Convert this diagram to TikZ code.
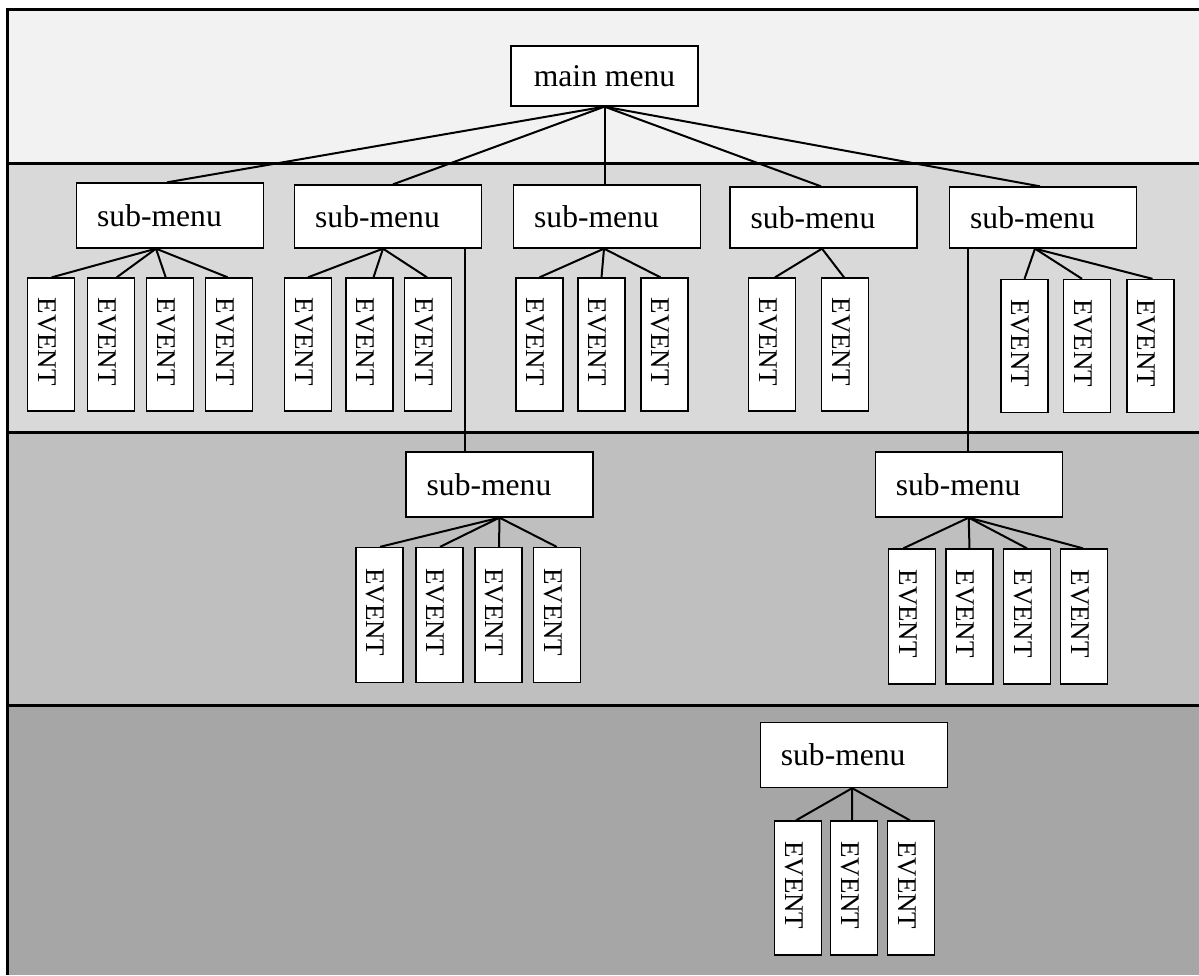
\documentclass[tikz,border=0pt]{standalone}
\usepackage{fontspec}
\setmainfont{Liberation Serif}
\usepackage{graphicx}
\definecolor{bandA}{HTML}{F2F2F2}
\definecolor{bandB}{HTML}{D9D9D9}
\definecolor{bandC}{HTML}{BFBFBF}
\definecolor{bandD}{HTML}{A6A6A6}
\newcommand{\evtxt}{\raisebox{3pt}[0pt][88pt]{\rotatebox{-90}{EVENT}}\kern8pt}
\newcommand{\smtxt}{sub-menu\kern21pt}
\begin{document}
\begin{tikzpicture}[x=1pt,y=-1pt,
  menubox/.style={draw,fill=white,line width=1.3pt,minimum width=187pt,minimum height=63pt,inner sep=0pt,font=\fontsize{31.6}{36}\selectfont},
  evbox/.style={draw,fill=white,line width=1.3pt,minimum width=47pt,minimum height=133pt,inner sep=0pt,font=\fontsize{27}{30}\selectfont},
  link/.style={line width=2pt},
  sepline/.style={line width=3pt}]
\useasboundingbox (0,0) rectangle (1199,975);
% bands
\fill[bandA] (7,8) rectangle (1199,163);
\fill[bandB] (7,163) rectangle (1199,432);
\fill[bandC] (7,432) rectangle (1199,705);
\fill[bandD] (7,705) rectangle (1199,975);
\draw[sepline] (6,9) -- (1199,9);
\draw[sepline] (7.5,9) -- (7.5,975);
\draw[sepline] (7.5,163) -- (1199,163);
\draw[sepline] (7.5,432) -- (1199,432);
\draw[sepline] (7.5,705) -- (1199,705);

% menus
\node[menubox,minimum height=60pt] (main) at (604.5,76) {main menu};
\node[menubox,minimum height=65pt] (s1) at (170,215.5) {\smtxt};
\node[menubox] (s2) at (388,216.5) {\smtxt};
\node[menubox] (s3) at (607,216.5) {\smtxt};
\node[menubox,minimum height=61pt] (s4) at (823.5,217.5) {\smtxt};
\node[menubox,minimum height=61pt] (s5) at (1043,217.5) {\smtxt};
\node[menubox,minimum height=65pt] (s6) at (499.5,484.5) {\smtxt};
\node[menubox,minimum height=65pt] (s7) at (968.7,484.5) {\smtxt};
\node[menubox,minimum height=65pt] (s8) at (853.7,755) {\smtxt};

% events
\node[evbox] (e1a) at (51,344.5) {\evtxt};
\node[evbox] (e1b) at (111,344.5) {\evtxt};
\node[evbox] (e1c) at (170,344.5) {\evtxt};
\node[evbox] (e1d) at (229,344.5) {\evtxt};
\node[evbox] (e2a) at (308,344.5) {\evtxt};
\node[evbox] (e2b) at (369.5,344.5) {\evtxt};
\node[evbox] (e2c) at (428,344.5) {\evtxt};
\node[evbox] (e3a) at (539.5,344.5) {\evtxt};
\node[evbox] (e3b) at (601.5,344.5) {\evtxt};
\node[evbox] (e3c) at (664.5,344.5) {\evtxt};
\node[evbox] (e4a) at (772,344.5) {\evtxt};
\node[evbox] (e4b) at (845,344.5) {\evtxt};
\node[evbox] (e5a) at (1024.5,346) {\evtxt};
\node[evbox] (e5b) at (1087,346) {\evtxt};
\node[evbox] (e5c) at (1150.5,346) {\evtxt};
\node[evbox,minimum height=135pt] (e6a) at (379.5,615) {\evtxt};
\node[evbox,minimum height=135pt] (e6b) at (439.5,615) {\evtxt};
\node[evbox,minimum height=135pt] (e6c) at (498.5,615) {\evtxt};
\node[evbox,minimum height=135pt] (e6d) at (557,615) {\evtxt};
\node[evbox,minimum height=135pt] (e7a) at (912,616.5) {\evtxt};
\node[evbox,minimum height=135pt] (e7b) at (969.5,616.5) {\evtxt};
\node[evbox,minimum height=135pt] (e7c) at (1027,616.5) {\evtxt};
\node[evbox,minimum height=135pt] (e7d) at (1084,616.5) {\evtxt};
\node[evbox,minimum height=134pt] (e8a) at (798,888) {\evtxt};
\node[evbox,minimum height=134pt] (e8b) at (854,888) {\evtxt};
\node[evbox,minimum height=134pt] (e8c) at (911,888) {\evtxt};

% main menu links
\draw[link] (main.south) -- ([xshift=-3]s1.north);
\draw[link] (main.south) -- ([xshift=5]s2.north);
\draw[link] (main.south) -- (main.south |- s3.north);
\draw[link] (main.south) -- ([xshift=-2.5]s4.north);
\draw[link] (main.south) -- ([xshift=-3]s5.north);

% sub-menu to sub-menu links
\draw[link] ([xshift=-34.5]s6.north) -- ([xshift=-34.5]s6.north |- s2.south);
\draw[link] ([xshift=-1]s7.north) -- ([xshift=-1]s7.north |- s5.south);

% event links
\foreach \e/\d in {e1a/0.7,e1b/5.7,e1c/-4.3,e1d/-1.3}
  \draw[link] ([xshift=-14]s1.south) -- ([xshift=\d]\e.north);
\foreach \e/\d in {e2a/0,e2b/4,e2c/-1}
  \draw[link] ([xshift=-5]s2.south) -- ([xshift=\d]\e.north);
\foreach \e/\d in {e3a/0,e3b/0,e3c/-4}
  \draw[link] ([xshift=-3]s3.south) -- ([xshift=\d]\e.north);
\foreach \e/\d in {e4a/3,e4b/-1}
  \draw[link] ([xshift=-1.5]s4.south) -- ([xshift=\d]\e.north);
\foreach \e/\d in {e5a/0,e5b/-5,e5c/2}
  \draw[link] ([xshift=-8]s5.south) -- ([xshift=\d]\e.north);
\foreach \e/\d in {e6a/0.5,e6b/0.5,e6c/0.5,e6d/-0.3}
  \draw[link] (s6.south) -- ([xshift=\d]\e.north);
\foreach \e/\d in {e7a/-8.7,e7b/0,e7c/0,e7d/-1}
  \draw[link] (s7.south) -- ([xshift=\d]\e.north);
\foreach \e/\d in {e8a/-2,e8b/-2,e8c/-1}
  \draw[link] ([xshift=-1.5]s8.south) -- ([xshift=\d]\e.north);
\end{tikzpicture}
\end{document}
